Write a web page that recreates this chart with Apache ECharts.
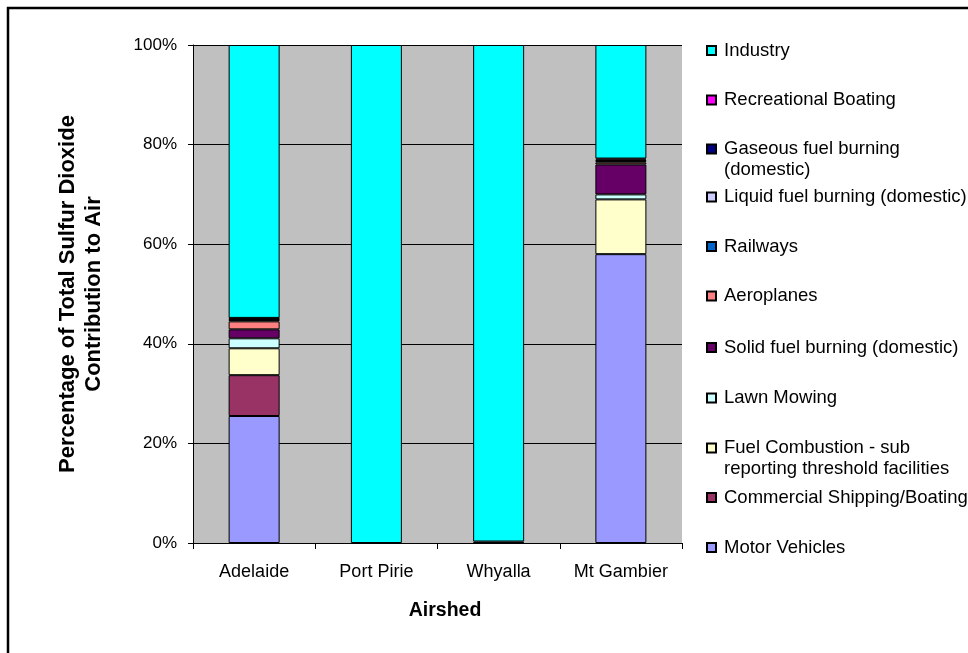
<!DOCTYPE html>
<html>
<head>
<meta charset="utf-8">
<script src="https://cdn.jsdelivr.net/npm/echarts@6/dist/echarts.min.js"></script>
<style>
  html, body { margin: 0; padding: 0; background: #fff; }
  #chart { width: 968px; height: 653px; }
</style>
</head>
<body>
<div id="chart"></div>
<script>
// Airsheds along the x axis
const categories = ['Adelaide', 'Port Pirie', 'Whyalla', 'Mt Gambier'];

// Share (%) of total sulfur dioxide emitted to air, per source
const motorVehicles       = [25.5, 0, 0, 58.0];
const commercialShipping  = [8.2, 0, 0.3, 0];
const fuelCombustion      = [5.4, 0, 0, 11.0];
const lawnMowing          = [2.0, 0, 0, 1.0];
const solidFuel           = [1.8, 0, 0, 6.0];
const aeroplanes          = [1.6, 0, 0, 0.4];
const railways            = [0.3, 0, 0, 0.3];
const liquidFuel          = [0.1, 0, 0, 0];
const gaseousFuel         = [0.2, 0, 0, 0.3];
const recreationalBoating = [0.1, 0, 0, 0.2];
const industry            = [54.8, 100, 99.7, 22.8];

const yTicks = [0, 20, 40, 60, 80, 100];

// Stack order, bottom to top
const sources = [
  { name: 'Motor Vehicles', data: motorVehicles, color: '#9999FF' },
  { name: 'Commercial Shipping/Boating', data: commercialShipping, color: '#993366' },
  { name: 'Fuel Combustion - sub reporting threshold facilities', data: fuelCombustion, color: '#FFFFCC',
    label: 'Fuel Combustion - sub\nreporting threshold facilities' },
  { name: 'Lawn Mowing', data: lawnMowing, color: '#CCFFFF' },
  { name: 'Solid fuel burning (domestic)', data: solidFuel, color: '#660066' },
  { name: 'Aeroplanes', data: aeroplanes, color: '#FF8080' },
  { name: 'Railways', data: railways, color: '#0066CC' },
  { name: 'Liquid fuel burning (domestic)', data: liquidFuel, color: '#CCCCFF' },
  { name: 'Gaseous fuel burning (domestic)', data: gaseousFuel, color: '#000080',
    label: 'Gaseous fuel burning\n(domestic)' },
  { name: 'Recreational Boating', data: recreationalBoating, color: '#FF00FF' },
  { name: 'Industry', data: industry, color: '#00FFFF' }
];

const FONT = "'Liberation Sans', Arial, sans-serif";

// Legend rows run top to bottom in reverse stack order; each row is its own legend.
// Wrapped entries get an empty leading line so the swatch sits beside their first line.
const legendRows = sources.slice().reverse();
const rowCenters = [50.5, 100, 149, 197, 246.5, 296, 347.5, 398, 448, 497.5, 547.5];
const LINE_H = 21;

const legends = legendRows.map((s, i) => {
  const twoLine = !!s.label;
  return {
    orient: 'vertical',
    left: 706,
    top: twoLine ? rowCenters[i] - 1.5 * LINE_H : rowCenters[i] - LINE_H / 2,
    padding: 0,
    data: [s.name],
    icon: 'rect',
    itemWidth: 9,
    itemHeight: 9,
    selectedMode: false,
    formatter: () => (twoLine ? ' \n' + s.label : s.name),
    textStyle: {
      fontFamily: FONT,
      fontSize: 18.5,
      color: '#000',
      lineHeight: LINE_H,
      padding: [0, 0, 0, 3]
    }
  };
});

const chart = echarts.init(document.getElementById('chart'), null, { renderer: 'canvas' });

chart.setOption({
  animation: false,
  backgroundColor: '#fff',
  graphic: [{
    type: 'rect',
    shape: { x: 8, y: 8, width: 1000, height: 700 },
    style: { fill: 'none', stroke: '#000', lineWidth: 2.5 },
    silent: true
  }],
  grid: {
    left: 193, right: 286, top: 45, bottom: 110,
    show: true, backgroundColor: '#C0C0C0', borderWidth: 0
  },
  legend: legends,
  xAxis: {
    type: 'category',
    data: categories,
    name: 'Airshed',
    nameLocation: 'middle',
    nameGap: 58,
    nameTextStyle: { fontFamily: FONT, fontSize: 19.5, fontWeight: 'bold', color: '#000', padding: [0, 0, 0, 15] },
    axisLine: { lineStyle: { color: '#000', width: 1 } },
    axisTick: { show: true, length: 6, lineStyle: { color: '#000' } },
    axisLabel: { fontFamily: FONT, fontSize: 18, color: '#000', margin: 20 }
  },
  yAxis: {
    type: 'value',
    min: yTicks[0],
    max: yTicks[yTicks.length - 1],
    interval: yTicks[1] - yTicks[0],
    name: 'Percentage of Total Sulfur Dioxide\nContribution to Air',
    nameLocation: 'middle',
    nameRotate: 90,
    nameGap: 86,
    nameTextStyle: { fontFamily: FONT, fontSize: 22, fontWeight: 'bold', color: '#000', lineHeight: 26 },
    axisLine: { show: true, lineStyle: { color: '#000', width: 1 } },
    axisTick: { show: true, length: 5, lineStyle: { color: '#000' } },
    axisLabel: { fontFamily: FONT, fontSize: 17, color: '#000', margin: 16, formatter: '{value}%' },
    splitLine: { show: true, lineStyle: { color: '#000', width: 1 } }
  },
  series: sources.map(s => ({
    name: s.name,
    type: 'bar',
    stack: 'total',
    barWidth: 51,
    data: s.data.map(v => (v ? v : null)),
    itemStyle: { color: s.color, borderColor: '#000', borderWidth: 1 },
    emphasis: { disabled: true }
  }))
});
</script>
</body>
</html>
